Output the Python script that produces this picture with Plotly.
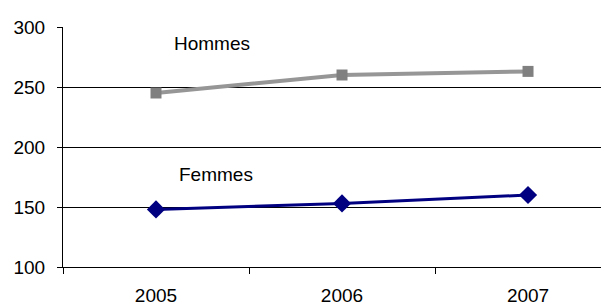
import plotly.graph_objects as go

years = ["2005", "2006", "2007"]
hommes = [245, 260, 263]
femmes = [148, 153, 160]
y_ticks = [100, 150, 200, 250, 300]

FONT = "Liberation Sans, Arial, sans-serif"

fig = go.Figure()
fig.add_trace(go.Scatter(
    x=years, y=hommes, mode="lines+markers", name="Hommes",
    line=dict(color="#969696", width=4),
    marker=dict(symbol="square", size=11, color="#808080"),
    cliponaxis=False,
))
fig.add_trace(go.Scatter(
    x=years, y=femmes, mode="lines+markers", name="Femmes",
    line=dict(color="#000080", width=3),
    marker=dict(symbol="diamond", size=14, color="#000080"),
    cliponaxis=False,
))

fig.add_annotation(x=0.3, y=286, xref="x", yref="y", text="Hommes",
                   showarrow=False, font=dict(family=FONT, size=19, color="black"))
fig.add_annotation(x=0.32, y=177, xref="x", yref="y", text="Femmes",
                   showarrow=False, font=dict(family=FONT, size=19, color="black"))

# page body has an 8px default margin; margins compensate for it
fig.update_layout(
    width=609, height=306,
    margin=dict(l=55, r=9, t=19, b=47, autoexpand=False),
    paper_bgcolor="white", plot_bgcolor="white",
    showlegend=False,
    font=dict(family=FONT, size=19, color="black"),
    xaxis=dict(
        type="category", range=[-0.5, 2.43], automargin=False,
        showgrid=False, zeroline=False,
        showline=True, linecolor="black", linewidth=1,
        ticks="outside", ticklen=6, tickcolor="black", tickwidth=1,
        tickson="boundaries", ticklabelstandoff=11,
    ),
    yaxis=dict(
        range=[100, 300], tickvals=y_ticks, automargin=False,
        showgrid=True, gridcolor="black", gridwidth=1,
        zeroline=False,
        showline=True, linecolor="black", linewidth=1,
        ticks="outside", ticklen=5, tickcolor="black", tickwidth=1,
        ticklabelstandoff=8,
    ),
)

fig.write_html("out.html")
